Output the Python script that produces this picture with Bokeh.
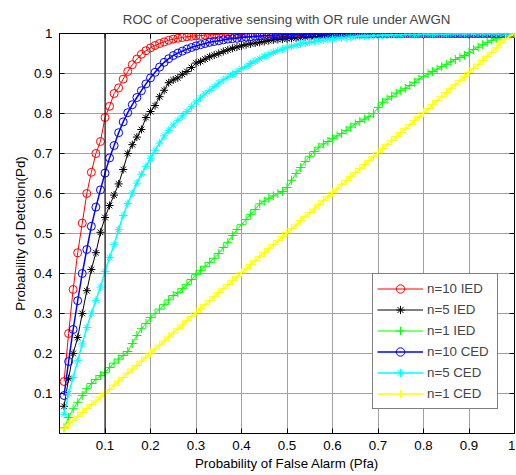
import math
from bokeh.plotting import figure
from bokeh.models import Range1d, FixedTicker, Span, Legend, LegendItem
from bokeh.embed import file_html
from bokeh.resources import INLINE

# ---------------- data ----------------
title_text = "ROC of Cooperative sensing with OR rule under AWGN"
x_label = "Probability of False Alarm (Pfa)"
y_label = "Probability of Detction(Pd)"

tick_values = [0.1, 0.2, 0.3, 0.4, 0.5, 0.6, 0.7, 0.8, 0.9, 1.0]
tick_labels = ["0.1", "0.2", "0.3", "0.4", "0.5", "0.6", "0.7", "0.8", "0.9", "1"]
reference_pfa = 0.1

pfa = [0.01, 0.02, 0.03, 0.04, 0.05, 0.06, 0.07, 0.08, 0.09, 0.10,
       0.11, 0.12, 0.13, 0.14, 0.15, 0.16, 0.17, 0.18, 0.19, 0.20,
       0.21, 0.22, 0.23, 0.24, 0.25, 0.26, 0.27, 0.28, 0.29, 0.30,
       0.31, 0.32, 0.33, 0.34, 0.35, 0.36, 0.37, 0.38, 0.39, 0.40,
       0.41, 0.42, 0.43, 0.44, 0.45, 0.46, 0.47, 0.48, 0.49, 0.50,
       0.51, 0.52, 0.53, 0.54, 0.55, 0.56, 0.57, 0.58, 0.59, 0.60,
       0.61, 0.62, 0.63, 0.64, 0.65, 0.66, 0.67, 0.68, 0.69, 0.70,
       0.71, 0.72, 0.73, 0.74, 0.75, 0.76, 0.77, 0.78, 0.79, 0.80,
       0.81, 0.82, 0.83, 0.84, 0.85, 0.86, 0.87, 0.88, 0.89, 0.90,
       0.91, 0.92, 0.93, 0.94, 0.95, 0.96, 0.97, 0.98, 0.99, 1.00]

pd_n10_ied = [0.130, 0.250, 0.360, 0.452, 0.526, 0.600, 0.653, 0.700, 0.730, 0.790,
              0.818, 0.850, 0.864, 0.886, 0.905, 0.922, 0.936, 0.948, 0.957, 0.964,
              0.970, 0.975, 0.979, 0.983, 0.986, 0.988, 0.990, 0.992, 0.993, 0.994,
              0.995, 0.996, 0.997, 0.997, 0.998, 0.998, 0.999, 0.999, 0.999, 0.999,
              1.000, 1.000, 1.000, 1.000, 1.000, 1.000, 1.000, 1.000, 1.000, 1.000,
              1.000, 1.000, 1.000, 1.000, 1.000, 1.000, 1.000, 1.000, 1.000, 1.000,
              1.000, 1.000, 1.000, 1.000, 1.000, 1.000, 1.000, 1.000, 1.000, 1.000,
              1.000, 1.000, 1.000, 1.000, 1.000, 1.000, 1.000, 1.000, 1.000, 1.000,
              1.000, 1.000, 1.000, 1.000, 1.000, 1.000, 1.000, 1.000, 1.000, 1.000,
              1.000, 1.000, 1.000, 1.000, 1.000, 1.000, 1.000, 1.000, 1.000, 1.000]

pd_n5_ied = [0.068, 0.137, 0.200, 0.240, 0.300, 0.357, 0.410, 0.452, 0.503, 0.540,
             0.570, 0.596, 0.624, 0.660, 0.700, 0.722, 0.741, 0.760, 0.790, 0.805,
             0.820, 0.842, 0.858, 0.877, 0.884, 0.889, 0.898, 0.905, 0.915, 0.926,
             0.930, 0.936, 0.942, 0.946, 0.950, 0.955, 0.959, 0.963, 0.966, 0.969,
             0.972, 0.974, 0.976, 0.978, 0.980, 0.982, 0.984, 0.985, 0.986, 0.987,
             0.988, 0.989, 0.990, 0.991, 0.992, 0.992, 0.993, 0.994, 0.994, 0.995,
             0.995, 0.996, 0.996, 0.997, 0.997, 0.997, 0.998, 0.998, 0.998, 0.999,
             0.999, 0.999, 0.999, 0.999, 1.000, 1.000, 1.000, 1.000, 1.000, 1.000,
             1.000, 1.000, 1.000, 1.000, 1.000, 1.000, 1.000, 1.000, 1.000, 1.000,
             1.000, 1.000, 1.000, 1.000, 1.000, 1.000, 1.000, 1.000, 1.000, 1.000]

pd_n1_ied = [0.014, 0.040, 0.062, 0.078, 0.095, 0.112, 0.125, 0.135, 0.145, 0.153,
             0.165, 0.176, 0.186, 0.195, 0.205, 0.225, 0.245, 0.262, 0.275, 0.290,
             0.300, 0.311, 0.322, 0.334, 0.345, 0.352, 0.362, 0.373, 0.385, 0.397,
             0.408, 0.418, 0.428, 0.438, 0.450, 0.465, 0.478, 0.495, 0.510, 0.522,
             0.535, 0.548, 0.560, 0.574, 0.581, 0.588, 0.594, 0.600, 0.605, 0.615,
             0.633, 0.650, 0.665, 0.680, 0.693, 0.705, 0.716, 0.724, 0.730, 0.738,
             0.744, 0.750, 0.758, 0.766, 0.774, 0.780, 0.786, 0.792, 0.800, 0.815,
             0.828, 0.836, 0.843, 0.851, 0.857, 0.863, 0.870, 0.878, 0.886, 0.893,
             0.899, 0.905, 0.911, 0.917, 0.923, 0.929, 0.935, 0.940, 0.945, 0.952,
             0.960, 0.966, 0.972, 0.978, 0.983, 0.988, 0.993, 0.997, 0.999, 1.000]

pd_n10_ced = [0.095, 0.180, 0.260, 0.332, 0.400, 0.460, 0.518, 0.566, 0.609, 0.651,
              0.689, 0.720, 0.752, 0.779, 0.802, 0.822, 0.840, 0.857, 0.874, 0.889,
              0.903, 0.916, 0.928, 0.937, 0.945, 0.951, 0.956, 0.961, 0.965, 0.969,
              0.972, 0.975, 0.978, 0.980, 0.982, 0.984, 0.986, 0.987, 0.988, 0.990,
              0.991, 0.992, 0.993, 0.994, 0.995, 0.995, 0.996, 0.996, 0.997, 0.997,
              0.998, 0.998, 0.998, 0.998, 0.999, 0.999, 0.999, 0.999, 0.999, 0.999,
              1.000, 1.000, 1.000, 1.000, 1.000, 1.000, 1.000, 1.000, 1.000, 1.000,
              1.000, 1.000, 1.000, 1.000, 1.000, 1.000, 1.000, 1.000, 1.000, 1.000,
              1.000, 1.000, 1.000, 1.000, 1.000, 1.000, 1.000, 1.000, 1.000, 1.000,
              1.000, 1.000, 1.000, 1.000, 1.000, 1.000, 1.000, 1.000, 1.000, 1.000]

pd_n5_ced = [0.048, 0.100, 0.140, 0.182, 0.224, 0.265, 0.300, 0.333, 0.366, 0.405,
             0.440, 0.472, 0.510, 0.545, 0.575, 0.601, 0.626, 0.648, 0.668, 0.688,
             0.708, 0.726, 0.744, 0.758, 0.771, 0.783, 0.794, 0.805, 0.817, 0.829,
             0.839, 0.849, 0.858, 0.867, 0.876, 0.884, 0.891, 0.898, 0.905, 0.912,
             0.918, 0.925, 0.931, 0.937, 0.943, 0.948, 0.953, 0.957, 0.961, 0.965,
             0.968, 0.971, 0.974, 0.976, 0.978, 0.980, 0.982, 0.984, 0.986, 0.987,
             0.988, 0.989, 0.990, 0.991, 0.992, 0.993, 0.994, 0.994, 0.995, 0.995,
             0.996, 0.996, 0.997, 0.997, 0.997, 0.998, 0.998, 0.998, 0.998, 0.999,
             0.999, 0.999, 0.999, 0.999, 0.999, 1.000, 1.000, 1.000, 1.000, 1.000,
             1.000, 1.000, 1.000, 1.000, 1.000, 1.000, 1.000, 1.000, 1.000, 1.000]

pd_n1_ced = [0.012, 0.021, 0.032, 0.043, 0.053, 0.062, 0.072, 0.081, 0.091, 0.101,
             0.110, 0.121, 0.131, 0.140, 0.151, 0.161, 0.170, 0.181, 0.191, 0.201,
             0.211, 0.221, 0.231, 0.241, 0.251, 0.262, 0.271, 0.282, 0.292, 0.302,
             0.312, 0.322, 0.332, 0.342, 0.352, 0.362, 0.372, 0.382, 0.392, 0.402,
             0.412, 0.422, 0.432, 0.442, 0.452, 0.462, 0.472, 0.482, 0.492, 0.502,
             0.512, 0.521, 0.532, 0.542, 0.552, 0.561, 0.572, 0.582, 0.592, 0.602,
             0.611, 0.622, 0.632, 0.642, 0.652, 0.662, 0.672, 0.682, 0.692, 0.702,
             0.712, 0.722, 0.732, 0.742, 0.752, 0.762, 0.772, 0.782, 0.792, 0.802,
             0.812, 0.822, 0.832, 0.842, 0.852, 0.862, 0.872, 0.882, 0.892, 0.903,
             0.913, 0.923, 0.933, 0.943, 0.953, 0.964, 0.977, 0.986, 0.994, 1.000]

series_labels = ["n=10 IED", "n=5 IED", "n=1 IED", "n=10 CED", "n=5 CED", "n=1 CED"]
series_values = [pd_n10_ied, pd_n5_ied, pd_n1_ied, pd_n10_ced, pd_n5_ced, pd_n1_ced]
series_colors = ["#ff0000", "#000000", "#00ff00", "#0000ff", "#00ffff", "#ffff00"]
series_markers = ["circle", "asterisk", "cross", "circle", "asterisk", "cross"]
series_widths = [1, 1, 1, 1.5, 1.5, 1.5]
series_sizes = [8, 8, 9, 8, 8, 9]

FONT = "Liberation Sans"
FS = "13.3px"

# ---------------- figure ----------------
p = figure(width=515, height=474, output_backend="svg", toolbar_location=None,
           x_range=Range1d(0, 1), y_range=Range1d(0, 1),
           min_border_left=59, min_border_right=1, min_border_top=33, min_border_bottom=41)
p.background_fill_color = "white"
p.border_fill_color = "white"
p.outline_line_color = "black"
p.outline_line_width = 1

p.title.text = title_text
p.title.text_font = FONT
p.title.text_font_size = FS
p.title.text_font_style = "normal"
p.title.align = "center"
p.title.standoff = 13

overrides = {v: s for v, s in zip(tick_values, tick_labels)}

for ax in (p.xaxis[0], p.yaxis[0]):
    ax.ticker = FixedTicker(ticks=tick_values)
    ax.major_label_overrides = overrides
    ax.major_tick_in = 5
    ax.major_tick_out = 0
    ax.minor_tick_line_color = None
    ax.axis_line_color = "black"
    ax.major_tick_line_color = "black"
    ax.major_label_text_font = FONT
    ax.major_label_text_font_size = FS
    ax.major_label_text_color = "black"
    ax.axis_label_text_font = FONT
    ax.axis_label_text_font_size = FS
    ax.axis_label_text_font_style = "normal"
    ax.axis_label_text_color = "black"

p.xaxis[0].axis_label = x_label
p.yaxis[0].axis_label = y_label
p.xaxis[0].major_label_standoff = 7
p.yaxis[0].major_label_standoff = 7
p.xaxis[0].axis_label_standoff = 3
p.yaxis[0].axis_label_standoff = 3

p.xgrid.grid_line_color = "#a0a0a0"
p.ygrid.grid_line_color = "#a0a0a0"
p.xgrid.grid_line_width = 1
p.ygrid.grid_line_width = 1

# inward tick marks on the top and right edges of the box
p.ray(x=[1.0] * len(tick_values), y=tick_values, length=5, length_units="screen",
      angle=math.pi, line_color="black", line_width=1)
p.ray(x=tick_values, y=[1.0] * len(tick_values), length=5, length_units="screen",
      angle=-math.pi / 2, line_color="black", line_width=1)

p.add_layout(Span(location=reference_pfa, dimension="height",
                  line_color="black", line_width=1))

items = []
for lab, vals, col, mk, lw, sz in zip(series_labels, series_values, series_colors,
                                       series_markers, series_widths, series_sizes):
    ln = p.line(pfa, vals, line_color=col, line_width=lw)
    sc = p.scatter(pfa, vals, marker=mk, size=sz, line_color=col,
                   fill_color=None, line_width=1)
    items.append(LegendItem(label=lab, renderers=[ln, sc]))

legend = Legend(items=items, location=(313, 24))
legend.border_line_color = "black"
legend.border_line_width = 1
legend.background_fill_color = "white"
legend.background_fill_alpha = 1
legend.label_text_font = FONT
legend.label_text_font_size = FS
legend.glyph_width = 46
legend.glyph_height = 21
legend.label_height = 21
legend.label_width = 66
legend.label_standoff = 4
legend.spacing = 0
legend.padding = 4
legend.margin = 0
p.add_layout(legend)

open("out.html", "w").write(file_html(p, INLINE))
